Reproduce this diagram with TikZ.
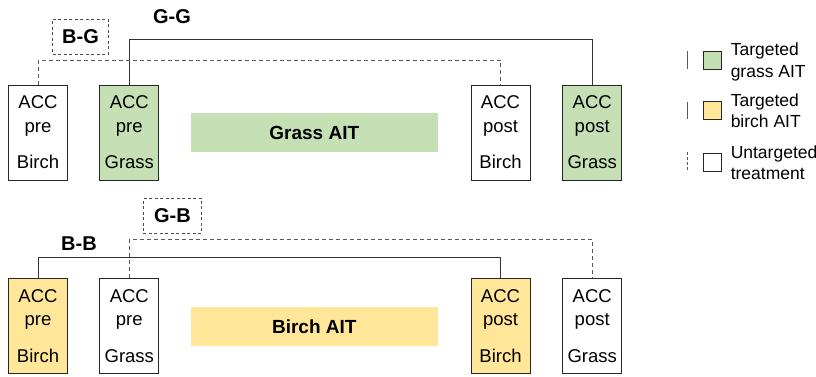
\documentclass[tikz,border=0pt]{standalone}
\usepackage{fontspec}
\setmainfont{Liberation Sans}
\usetikzlibrary{calc}

\definecolor{grassgreen}{HTML}{C5E0B4}
\definecolor{birchyellow}{HTML}{FFE699}

\newcommand\accfont{\fontsize{18.5}{23.4}\selectfont}
\newcommand\pairfont{\fontsize{20}{24}\selectfont\bfseries}
\newcommand\legfont{\fontsize{17.5}{21.7}\selectfont}

\tikzset{
	accbox/.style={draw=black!85, line width=1pt, minimum width=59pt, minimum height=95pt,
		inner sep=0pt, align=center, text depth=0pt, font=\accfont},
	aitbar/.style={minimum width=246.7pt, minimum height=38.4pt, inner sep=0pt,
		font=\fontsize{19}{23}\selectfont\bfseries},
	pairbox/.style={draw=black!70, line width=0.8pt, dash pattern=on 3pt off 2.5pt,
		minimum height=35pt, inner sep=0pt, font=\pairfont},
	samelink/.style={draw=black!80, line width=0.8pt},
	crosslink/.style={draw=black!65, line width=0.8pt, dash pattern=on 4pt off 3pt},
	legsq/.style={draw=black!85, line width=1pt, minimum size=17.7pt, inner sep=0pt},
	legline/.style={draw=black!65, line width=1.2pt},
	legtxt/.style={anchor=west, align=left, inner sep=0pt, text depth=0pt, font=\legfont},
}

\begin{document}
\begin{tikzpicture}[x=1pt, y=1pt]
	\useasboundingbox (0,0) rectangle (816,376);
	
	%%%%% GRASS AIT %%%%%
	\node[accbox] (g-preB) at (38,243.5) {ACC\\pre\\[13.2pt]Birch};
	\node[accbox, fill=grassgreen] (g-preG) at (129.3,243.5) {ACC\\pre\\[13.2pt]Grass};
	\node[accbox] (g-postB) at (500.5,243.5) {ACC\\post\\[13.2pt]Birch};
	\node[accbox, fill=grassgreen] (g-postG) at (592.2,243.5) {ACC\\post\\[13.2pt]Grass};
	\node[aitbar, fill=grassgreen] (grass-bar) at (314.3,243.5) {Grass AIT};
	
	\coordinate (gg-level) at (0,336.7);
	\coordinate (bg-level) at (0,316);
	\draw[samelink] (g-preG.north) -- (g-preG.north |- gg-level) -| (g-postG.north);
	\draw[crosslink] (g-preB.north) -- (g-preB.north |- bg-level) -| (g-postB.north);
	\node[font=\pairfont] (gg-lab) at (172,359) {G-G};
	\node[pairbox, minimum width=55.6pt] (bg-lab) at (80.5,339.5) {B-G};
	
	%%%%% BIRCH AIT %%%%%
	\node[accbox, fill=birchyellow] (b-preB) at (38,50) {ACC\\pre\\[13.2pt]Birch};
	\node[accbox] (b-preG) at (129.3,50) {ACC\\pre\\[13.2pt]Grass};
	\node[accbox, fill=birchyellow] (b-postB) at (500.5,50) {ACC\\post\\[13.2pt]Birch};
	\node[accbox] (b-postG) at (592.2,50) {ACC\\post\\[13.2pt]Grass};
	\node[aitbar, fill=birchyellow] (birch-bar) at (314.3,49.5) {Birch AIT};
	
	\coordinate (bb-level) at (0,118.3);
	\coordinate (gb-level) at (0,136.7);
	\draw[samelink] (b-preB.north) -- (b-preB.north |- bb-level) -| (b-postB.north);
	\draw[crosslink] (b-preG.north) -- (b-preG.north |- gb-level) -| (b-postG.north);
	\node[font=\pairfont] (bb-lab) at (79,132.7) {B-B};
	\node[pairbox, minimum width=58.4pt] (gb-lab) at (172.5,160.2) {G-B};
	
	%%%%% LEGEND %%%%%
	\node[legsq, fill=grassgreen] (leg-grass) at (712.2,315.5) {};
	\node[legsq, fill=birchyellow] (leg-birch) at (712.2,265.2) {};
	\node[legsq] (leg-none) at (712.2,213.2) {};
	\draw[legline] ([xshift=-15.6pt,yshift=-8pt]leg-grass.west) -- ++(0,18);
	\draw[legline] ([xshift=-15.6pt,yshift=-8pt]leg-birch.west) -- ++(0,17);
	\draw[legline, dash pattern=on 3pt off 2pt] ([xshift=-15.6pt,yshift=-7pt]leg-none.west) -- ++(0,19);
	\node[legtxt] (leg-grass-txt) at ([xshift=9pt]leg-grass.east) {Targeted\\grass AIT};
	\node[legtxt] (leg-birch-txt) at ([xshift=9pt]leg-birch.east) {Targeted\\birch AIT};
	\node[legtxt] (leg-none-txt) at ([xshift=9pt]leg-none.east) {Untargeted\\treatment};
	
\end{tikzpicture}
\end{document}
